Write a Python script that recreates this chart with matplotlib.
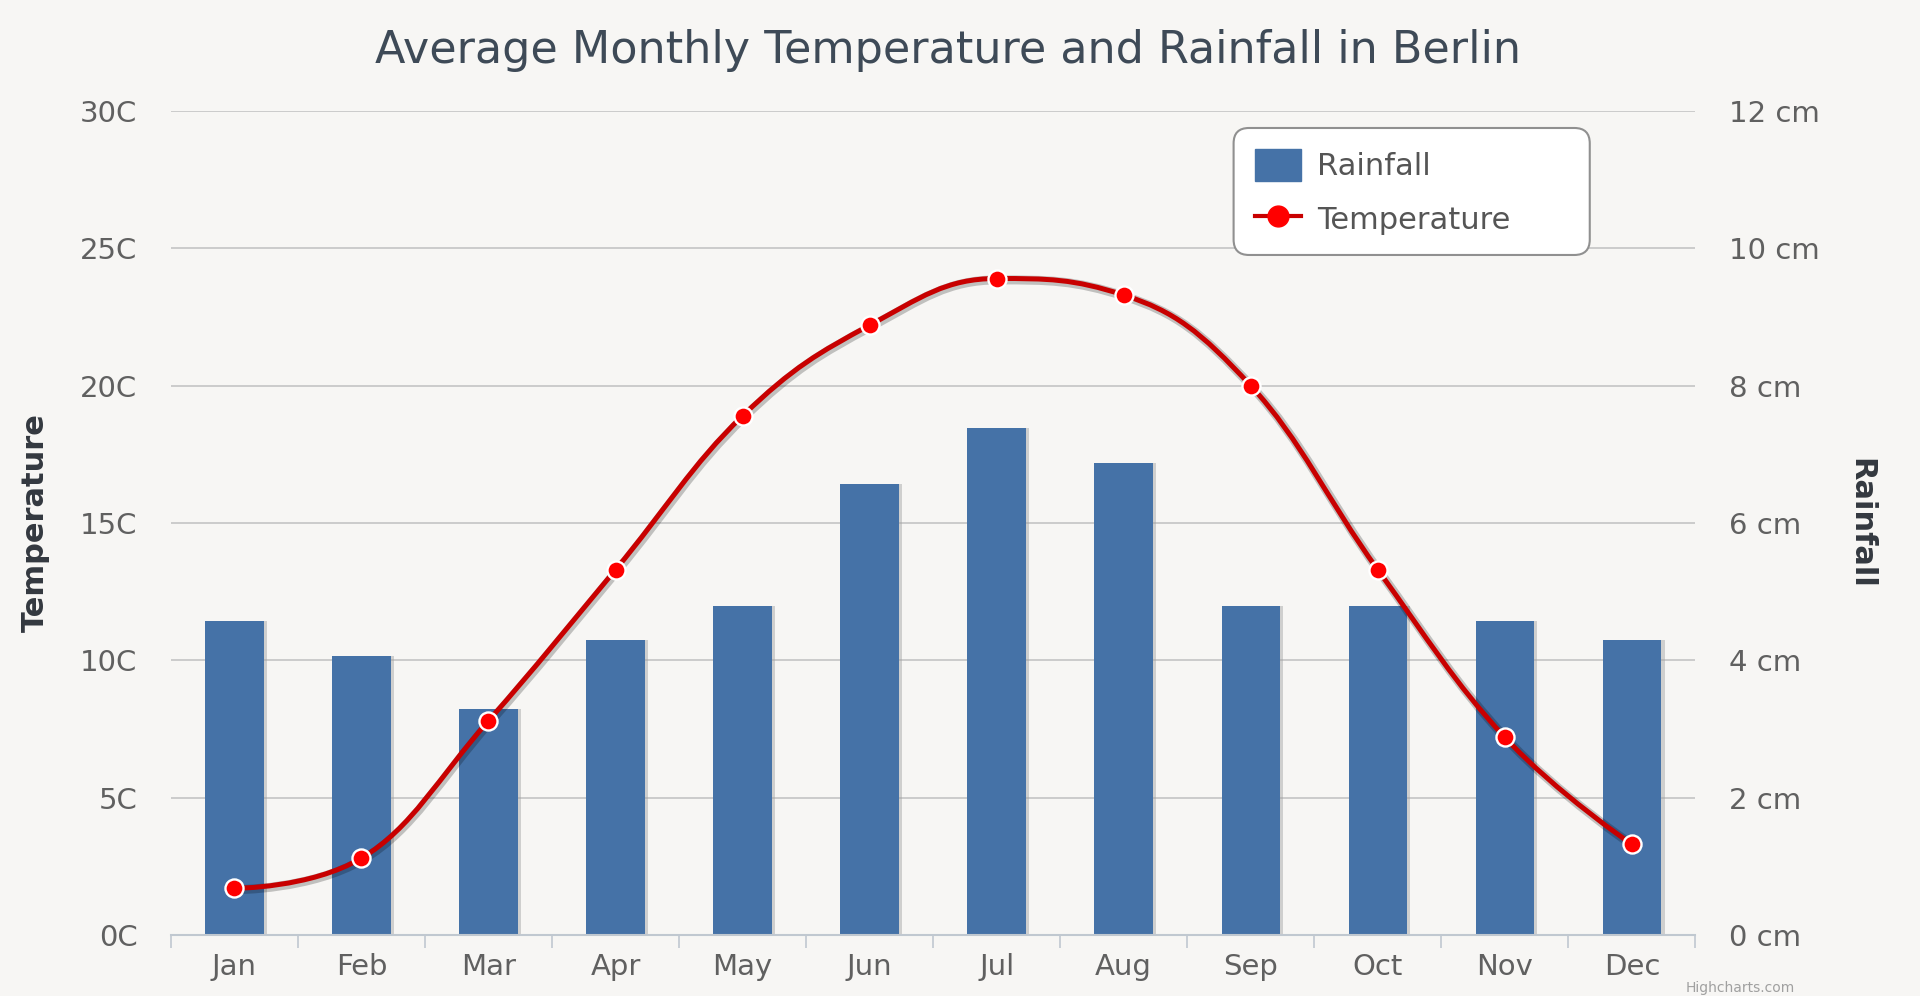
import numpy as np
import matplotlib
matplotlib.use("Agg")
import matplotlib.pyplot as plt
from matplotlib.path import Path
from matplotlib.patches import PathPatch, FancyBboxPatch
from matplotlib.lines import Line2D
import matplotlib.patheffects as pe

months = ["Jan", "Feb", "Mar", "Apr", "May", "Jun", "Jul", "Aug", "Sep", "Oct", "Nov", "Dec"]
temperature = [1.7, 2.8, 7.8, 13.3, 18.9, 22.2, 23.9, 23.3, 20.0, 13.3, 7.2, 3.3]
rainfall = [4.57, 4.07, 3.29, 4.29, 4.79, 6.57, 7.38, 6.88, 4.79, 4.79, 4.57, 4.29]
temp_ticks = [0, 5, 10, 15, 20, 25, 30]
rain_ticks = [0, 2, 4, 6, 8, 10, 12]

BG = "#F7F6F4"
BAR = "#4572A7"
LINE = "#C80000"
MARK = "#FF0000"
TICK_C = "#606060"
TITLE_C = "#3E4A57"
AXT_C = "#33383F"

plt.rcParams['font.family'] = ['DejaVu Sans']

fig = plt.figure(figsize=(19.2, 9.96), dpi=100, facecolor=BG)
ax = fig.add_axes([0.089, 0.0612, 0.794, 0.8274])
ax2 = ax.twinx()
ax.set_zorder(2)
ax2.set_zorder(1)
ax.patch.set_visible(False)
ax2.patch.set_visible(False)

x = np.arange(len(months))

# bars (rainfall) on right axis
ax2.bar(x, rainfall, width=0.46, color=BAR, zorder=3,
        path_effects=[pe.SimplePatchShadow(offset=(2.5, 0), shadow_rgbFace="#a0a0a0", alpha=0.45),
                      pe.Normal()])
ax2.set_ylim(0, 12)
ax2.set_yticks(rain_ticks)
ax2.set_yticklabels([f"{t} cm" for t in rain_ticks])
ax2.yaxis.grid(True, color="#C8C8C8", linewidth=1.3, zorder=0)
ax2.set_axisbelow(True)

# spline (Highcharts-style bezier through the data points)
def spline_path(xs, ys, smoothing=1.5):
    denom = smoothing + 1
    n = len(xs)
    rc = [None] * n
    lc = [None] * n
    for i in range(1, n - 1):
        px, py = xs[i], ys[i]
        lx, ly = xs[i - 1], ys[i - 1]
        nx, ny = xs[i + 1], ys[i + 1]
        lcx = (smoothing * px + lx) / denom
        lcy = (smoothing * py + ly) / denom
        rcx = (smoothing * px + nx) / denom
        rcy = (smoothing * py + ny) / denom
        corr = ((rcy - lcy) * (rcx - px)) / (rcx - lcx) + py - rcy
        lcy += corr
        rcy += corr
        if lcy > ly and lcy > py:
            lcy = max(ly, py); rcy = 2 * py - lcy
        elif lcy < ly and lcy < py:
            lcy = min(ly, py); rcy = 2 * py - lcy
        if rcy > ny and rcy > py:
            rcy = max(ny, py); lcy = 2 * py - rcy
        elif rcy < ny and rcy < py:
            rcy = min(ny, py); lcy = 2 * py - rcy
        lc[i] = (lcx, lcy)
        rc[i] = (rcx, rcy)
    verts = [(xs[0], ys[0])]
    codes = [Path.MOVETO]
    for i in range(1, n):
        c1 = rc[i - 1] if rc[i - 1] is not None else (xs[i - 1], ys[i - 1])
        c2 = lc[i] if lc[i] is not None else (xs[i], ys[i])
        verts += [c1, c2, (xs[i], ys[i])]
        codes += [Path.CURVE4] * 3
    return Path(verts, codes)

path = spline_path(list(x.astype(float)), temperature)
patch = PathPatch(path, facecolor="none", edgecolor=LINE, linewidth=3.6, zorder=4,
                  path_effects=[pe.SimpleLineShadow(offset=(1, -1), shadow_color="black", alpha=0.22, linewidth=6.5),
                                pe.Normal()])
ax.add_patch(patch)
ax.plot(x, temperature, linestyle="none", marker="o", markersize=13, markerfacecolor=MARK,
        markeredgecolor="white", markeredgewidth=1.7, zorder=5)

ax.set_ylim(0, 30)
ax.set_yticks(temp_ticks)
ax.set_yticklabels([f"{t}C" for t in temp_ticks])
ax.set_xlim(-0.5, len(months) - 0.5)
ax.set_xticks(x)
ax.set_xticklabels(months)
ax.set_xticks(np.arange(-0.5, len(months)), minor=True)
ax.tick_params(axis="x", which="major", length=0, pad=13, labelsize=21, labelcolor=TICK_C)
ax.tick_params(axis="x", which="minor", length=9, width=1.2, color="#C0C8D0", direction="out")
ax.tick_params(axis="y", length=0, pad=24, labelsize=21, labelcolor=TICK_C)
ax2.tick_params(axis="y", length=0, pad=24, labelsize=21, labelcolor=TICK_C)

for a in (ax, ax2):
    for s in a.spines.values():
        s.set_visible(False)
ax.spines["bottom"].set_visible(True)
ax.spines["bottom"].set_color("#C0C8D0")
ax.spines["bottom"].set_linewidth(1.5)

ax.set_ylabel("Temperature", fontsize=22, fontweight="bold", color=AXT_C, labelpad=22)
ax2.set_ylabel("Rainfall", fontsize=22, fontweight="bold", color=AXT_C, rotation=270, labelpad=40)

fig.text(0.494, 0.949, "Average Monthly Temperature and Rainfall in Berlin", ha="center", va="center",
         fontsize=32, color=TITLE_C)

# legend frame (fixed size, rounded)
frame = FancyBboxPatch((0.6425, 0.744), 0.1855, 0.1275, transform=fig.transFigure,
                       boxstyle="round,pad=0,rounding_size=0.008", facecolor="white",
                       edgecolor="#909090", linewidth=1.5, zorder=10,
                       mutation_aspect=1920 / 996)
fig.add_artist(frame)

leg = fig.legend(handles=[
    plt.Rectangle((0, 0), 1, 1, facecolor=BAR, edgecolor=BAR),
    Line2D([0], [0], color=LINE, linewidth=3, marker="o", markersize=15, markerfacecolor=MARK,
           markeredgecolor=MARK)],
    labels=["Rainfall", "Temperature"], loc="upper left", bbox_to_anchor=(0.6535, 0.8505),
    fontsize=22, frameon=False, handlelength=1.5, handleheight=1.25, borderpad=0,
    labelspacing=0.7, handletextpad=0.55, borderaxespad=0)
leg.set_zorder(11)
for t in leg.get_texts():
    t.set_color("#555555")

fig.text(0.878, 0.001, "Highcharts.com", ha="left", va="bottom", fontsize=10, color="#A0A0A0")

fig.savefig("out.png", dpi=100, facecolor=BG)
